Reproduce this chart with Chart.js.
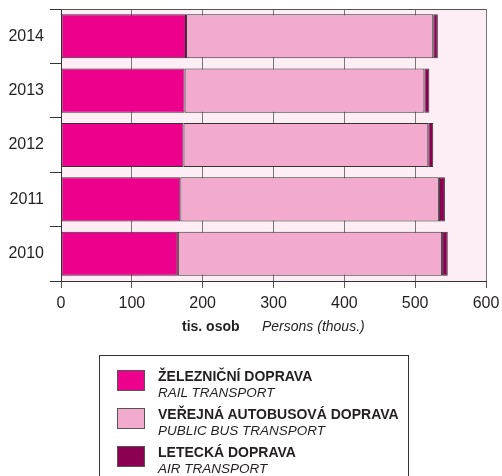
<!DOCTYPE html>
<html>
<head>
<meta charset="utf-8">
<script src="https://cdn.jsdelivr.net/npm/chart.js@4"></script>
<style>
  body { margin: 0; background: #fff; font-family: "Liberation Sans", Arial, sans-serif; color: #231f20; }
  #wrap { position: relative; width: 502px; height: 476px; overflow: hidden; }
  #chart { position: absolute; left: 0; top: 0; }
  .axis-title { position: absolute; top: 318px; font-size: 14px; white-space: nowrap; }
  #legend { position: absolute; left: 99px; top: 355px; width: 308px; height: 140px; border: 1px solid #333; background: #fff; }
  .row { position: absolute; left: 0; width: 100%; height: 36px; }
  .box { position: absolute; left: 17px; top: 0; width: 26px; height: 19px; border: 1px solid #555; }
  .cz { position: absolute; left: 58px; top: -2px; font-size: 14px; font-weight: bold; white-space: nowrap; }
  .en { position: absolute; left: 58px; top: 15px; font-size: 13.5px; font-style: italic; white-space: nowrap; }
</style>
</head>
<body>
<div id="wrap">
  <canvas id="chart" width="502" height="476"></canvas>
  <span class="axis-title" style="left:182px;font-weight:bold">tis. osob</span>
  <span class="axis-title" style="left:262px;font-style:italic">Persons (thous.)</span>
  <div id="legend"></div>
</div>
<script>
const years = ['2014', '2013', '2012', '2011', '2010'];
const rail = [176.5, 174.5, 173, 168.5, 165];
const bus = [349, 338.5, 345.5, 365, 373];
const air = [6.5, 7, 7, 8.5, 8];
const xTicks = [0, 100, 200, 300, 400, 500, 600];

const namesCz = ['ŽELEZNIČNÍ DOPRAVA', 'VEŘEJNÁ AUTOBUSOVÁ DOPRAVA', 'LETECKÁ DOPRAVA'];
const namesEn = ['RAIL TRANSPORT', 'PUBLIC BUS TRANSPORT', 'AIR TRANSPORT'];
const colors = ['#ec008c', '#f3abcd', '#8b0050'];

// legend built in html (two fonts per item)
const legend = document.getElementById('legend');
namesCz.forEach((name, i) => {
  const row = document.createElement('div');
  row.className = 'row';
  row.style.top = (14 + i * 38) + 'px';
  row.innerHTML = '<div class="box" style="background:' + colors[i] + '"></div>' +
    '<div class="cz">' + name + '</div><div class="en">' + namesEn[i] + '</div>';
  legend.appendChild(row);
});

const plotBg = {
  id: 'plotBg',
  beforeDraw(chart) {
    const a = chart.chartArea, c = chart.ctx;
    c.save();
    c.fillStyle = '#fdeef5';
    c.fillRect(a.left, a.top, a.right - a.left, a.bottom - a.top);
    c.restore();
  },
  afterDatasetsDraw(chart) {
    const a = chart.chartArea, c = chart.ctx;
    c.save();
    c.strokeStyle = '#555';
    c.lineWidth = 1;
    c.beginPath();
    c.moveTo(a.left, a.top + 0.5);
    c.lineTo(a.right, a.top + 0.5);
    c.stroke();
    c.restore();
  }
};

const font = { family: '"Liberation Sans", Arial, sans-serif', size: 16 };

new Chart(document.getElementById('chart'), {
  type: 'bar',
  data: {
    labels: years,
    datasets: [
      { label: namesCz[0], data: rail, backgroundColor: colors[0] },
      { label: namesCz[1], data: bus, backgroundColor: colors[1] },
      { label: namesCz[2], data: air, backgroundColor: colors[2] }
    ].map(d => Object.assign(d, {
      borderColor: '#333', borderWidth: 1, borderSkipped: false,
      categoryPercentage: 1, barPercentage: 0.81
    }))
  },
  options: {
    indexAxis: 'y',
    responsive: false,
    animation: false,
    layout: { padding: { top: 9, right: 16, left: 0, bottom: 0 } },
    plugins: { legend: { display: false }, tooltip: { enabled: false } },
    scales: {
      x: {
        stacked: true, min: 0, max: 600,
        afterBuildTicks: s => { s.ticks = xTicks.map(v => ({ value: v })); },
        afterFit: s => { s.height = 195; s.paddingLeft = 0; s.paddingRight = 0; },
        grid: { color: '#777', lineWidth: 1, tickLength: 7, tickColor: '#555' },
        border: { color: '#333', width: 1 },
        ticks: { color: '#231f20', font: font, padding: 6, maxRotation: 0 }
      },
      y: {
        stacked: true,
        afterFit: s => { s.width = 61; s.paddingTop = 0; s.paddingBottom = 0; },
        grid: { drawOnChartArea: false, tickLength: 11, tickColor: '#333', offset: true },
        border: { color: '#333', width: 1 },
        ticks: { color: '#231f20', font: font, padding: 6 }
      }
    }
  },
  plugins: [plotBg]
});
</script>
</body>
</html>
